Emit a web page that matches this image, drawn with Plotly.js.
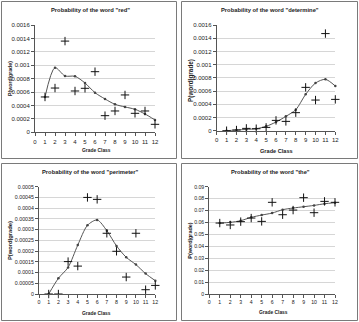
<!DOCTYPE html>
<html>
<head>
<meta charset="utf-8">
<script src="https://cdn.plot.ly/plotly-3.0.1.min.js"></script>
<style>
  html, body { margin: 0; padding: 0; background: #ffffff; }
  #chart { width: 359px; height: 322px; }
</style>
</head>
<body>
<div id="chart"></div>
<script>
// Grade classes on the horizontal axis
const grades = [1, 2, 3, 4, 5, 6, 7, 8, 9, 10, 11, 12];
const gradeTicks = [0, 1, 2, 3, 4, 5, 6, 7, 8, 9, 10, 11, 12];

// P(word | grade): observed values (+) and smoothed estimates (line)
const redObserved = [0.000527, 0.00066, 0.00136, 0.000616, 0.000656, 0.000904, 0.000248, 0.000318, 0.000557, 0.000283, 0.000318, 0.000119];
const redSmoothed = [0.000527, 0.000964, 0.00084, 0.000835, 0.000735, 0.000591, 0.000497, 0.000417, 0.000378, 0.000343, 0.000273, 0.000184];

const determineObserved = [0, 0.00001, 0.000035, 0.00003, 0.00005, 0.000156, 0.000141, 0.000273, 0.000656, 0.000464, 0.00147, 0.000474];
const determineSmoothed = [0, 0.00001, 0.00002, 0.00003, 0.000066, 0.000131, 0.000217, 0.000318, 0.00055, 0.000722, 0.000777, 0.000676];

const perimeterObserved = [0, 0, 0.000151, 0.00013, 0.00045, 0.000441, 0.000283, 0.000199, 0.000079, 0.000283, 0.00002, 0.00004];
const perimeterSmoothed = [0, 0.000073, 0.000124, 0.000228, 0.00032, 0.000345, 0.000295, 0.000224, 0.000171, 0.000137, 0.000095, 0.000062];

const theObserved = [0.0595, 0.0579, 0.0607, 0.0637, 0.0609, 0.0769, 0.0665, 0.0704, 0.0808, 0.0682, 0.0777, 0.0769];
const theSmoothed = [0.0595, 0.0601, 0.0615, 0.0643, 0.0662, 0.0679, 0.0707, 0.0721, 0.0732, 0.0743, 0.0757, 0.0766];

// Vertical tick labels
const ticksLarge = [0, 0.0002, 0.0004, 0.0006, 0.0008, 0.001, 0.0012, 0.0014, 0.0016];
const ticksLargeText = ['0', '0.0002', '0.0004', '0.0006', '0.0008', '0.001', '0.0012', '0.0014', '0.0016'];
const ticksSmall = [0, 0.00005, 0.0001, 0.00015, 0.0002, 0.00025, 0.0003, 0.00035, 0.0004, 0.00045, 0.0005];
const ticksSmallText = ['0', '0.00005', '0.0001', '0.00015', '0.0002', '0.00025', '0.0003', '0.00035', '0.0004', '0.00045', '0.0005'];
const ticksThe = [0, 0.01, 0.02, 0.03, 0.04, 0.05, 0.06, 0.07, 0.08, 0.09];
const ticksTheText = ['0', '0.01', '0.02', '0.03', '0.04', '0.05', '0.06', '0.07', '0.08', '0.09'];

const words = ['red', 'determine', 'perimeter', 'the'];

// Page geometry in pixels, converted to paper fractions
const W = 359, H = 322;
const px = v => v / W;
const py = v => 1 - v / H;

const FONT = 'Liberation Sans, Arial, sans-serif';
const INK = '#222222';

const panels = [
  { word: words[0], obs: redObserved, fit: redSmoothed, ymax: 0.0016, tv: ticksLarge, tt: ticksLargeText,
    frame: [1, 1, 177, 159], plot: [35, 155, 25, 132.3], tick: 6, axTitle: 4.9, yTitle: 5.2,
    title: [90, 10.3], xt: [96, 150.7], yt: [10, 79] },
  { word: words[1], obs: determineObserved, fit: determineSmoothed, ymax: 0.0016, tv: ticksLarge, tt: ticksLargeText,
    frame: [181, 1, 358, 159], plot: [216.7, 335.3, 25, 130.7], tick: 6, axTitle: 5.6, yTitle: 6.4,
    title: [270, 10.3], xt: [276.7, 150.7], yt: [191, 81] },
  { word: words[2], obs: perimeterObserved, fit: perimeterSmoothed, ymax: 0.0005, tv: ticksSmall, tt: ticksSmallText,
    frame: [1, 163, 177, 321], plot: [39, 155.3, 186.7, 294], tick: 5.3, axTitle: 4.9, yTitle: 5.8,
    title: [90, 172], xt: [96, 313.7], yt: [10, 241] },
  { word: words[3], obs: theObserved, fit: theSmoothed, ymax: 0.09, tv: ticksThe, tt: ticksTheText,
    frame: [181, 163, 358, 321], plot: [209.3, 335, 186.7, 294], tick: 5.2, axTitle: 4.9, yTitle: 5.4,
    title: [270, 171.7], xt: [273, 312.7], yt: [190, 240.7] }
];

const traces = [];
const layout = {
  width: W, height: H,
  margin: { l: 0, r: 0, t: 0, b: 0 },
  paper_bgcolor: '#ffffff',
  plot_bgcolor: '#ffffff',
  showlegend: false,
  font: { family: FONT, color: INK },
  shapes: [],
  annotations: []
};

panels.forEach((p, i) => {
  const n = i === 0 ? '' : String(i + 1);
  const xa = 'x' + n, ya = 'y' + n;

  traces.push({
    type: 'scatter', mode: 'lines+markers', x: grades, y: p.fit,
    xaxis: xa, yaxis: ya, cliponaxis: false,
    line: { color: '#555555', width: 1, shape: 'spline', smoothing: 0.8 },
    marker: { symbol: 'circle', size: 2.5, color: '#444444' },
    hoverinfo: 'skip'
  });
  traces.push({
    type: 'scatter', mode: 'markers', x: grades, y: p.obs,
    xaxis: xa, yaxis: ya, cliponaxis: false,
    marker: { symbol: 'cross-thin-open', size: 6, color: '#111111', line: { color: '#111111', width: 1 } },
    hoverinfo: 'skip'
  });

  layout['xaxis' + n] = {
    domain: [px(p.plot[0]), px(p.plot[1])], anchor: ya,
    range: [0, 12], tickvals: gradeTicks, ticktext: gradeTicks.map(String),
    showgrid: false, zeroline: false,
    showline: true, linecolor: '#555555', linewidth: 1,
    ticks: 'outside', ticklen: 3, tickcolor: '#555555', tickwidth: 1,
    tickfont: { family: FONT, size: p.tick, color: INK }
  };
  layout['yaxis' + n] = {
    domain: [py(p.plot[3]), py(p.plot[2])], anchor: xa,
    range: [0, p.ymax], tickvals: p.tv, ticktext: p.tt,
    showgrid: true, gridcolor: '#d6d6d6', gridwidth: 1, zeroline: false,
    showline: true, linecolor: '#555555', linewidth: 1,
    ticks: 'outside', ticklen: 3, tickcolor: '#555555', tickwidth: 1,
    tickfont: { family: FONT, size: p.tick, color: INK }
  };

  // panel frame
  layout.shapes.push({
    type: 'rect', xref: 'paper', yref: 'paper', layer: 'below',
    x0: px(p.frame[0] + 0.5), x1: px(p.frame[2] - 0.5),
    y0: py(p.frame[3] - 0.5), y1: py(p.frame[1] + 0.5),
    line: { color: '#7a7a7a', width: 1 }, fillcolor: 'rgba(0,0,0,0)'
  });

  layout.annotations.push(
    { text: '<b>Probability of the word "' + p.word + '"</b>', xref: 'paper', yref: 'paper',
      x: px(p.title[0]), y: py(p.title[1]), xanchor: 'center', yanchor: 'middle', showarrow: false,
      font: { family: FONT, size: 5.8, color: INK } },
    { text: '<b>Grade Class</b>', xref: 'paper', yref: 'paper',
      x: px(p.xt[0]), y: py(p.xt[1]), xanchor: 'center', yanchor: 'middle', showarrow: false,
      font: { family: FONT, size: p.axTitle, color: INK } },
    { text: '<b>P(word|grade)</b>', xref: 'paper', yref: 'paper', textangle: -90,
      x: px(p.yt[0]), y: py(p.yt[1]), xanchor: 'center', yanchor: 'middle', showarrow: false,
      font: { family: FONT, size: p.yTitle, color: INK } }
  );
});

Plotly.newPlot('chart', traces, layout, { staticPlot: true, displayModeBar: false });
</script>
</body>
</html>
